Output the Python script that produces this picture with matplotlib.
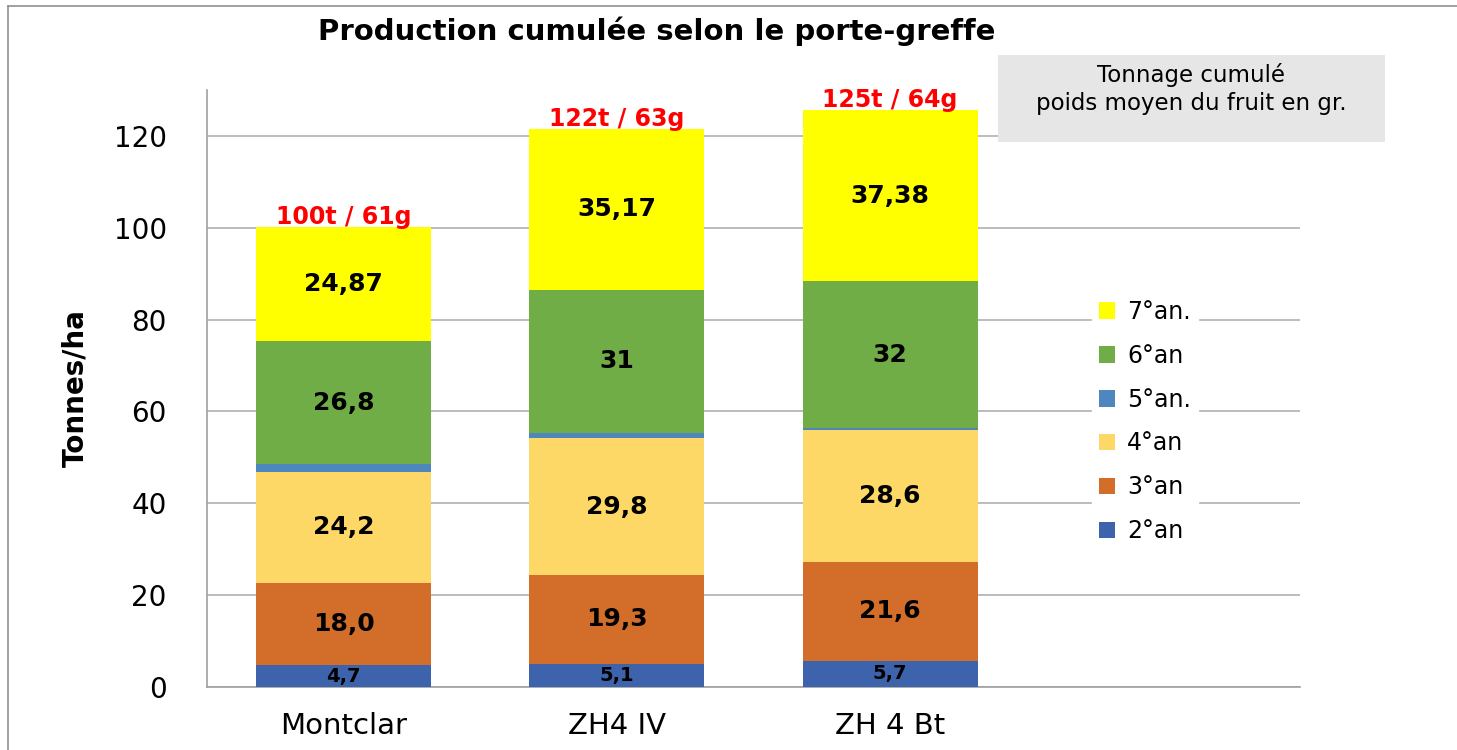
import numpy as np
import matplotlib
matplotlib.use("Agg")
import matplotlib.pyplot as plt
from matplotlib.patches import Rectangle
from matplotlib.lines import Line2D

categories = ["Montclar", "ZH4 IV", "ZH 4 Bt"]

an2 = [4.7, 5.1, 5.7]
an3 = [18.0, 19.3, 21.6]
an4 = [24.2, 29.8, 28.6]
an5 = [1.6, 1.2, 0.4]
an6 = [26.8, 31.0, 32.0]
an7 = [24.87, 35.17, 37.38]

series_names = ["2°an", "3°an", "4°an", "5°an.", "6°an", "7°an."]
series_colors = ["#3C63AC", "#D26E2A", "#FDD866", "#4E87BE", "#70AD47", "#FFFF00"]

an2_lbl = ["4,7", "5,1", "5,7"]
an3_lbl = ["18,0", "19,3", "21,6"]
an4_lbl = ["24,2", "29,8", "28,6"]
an6_lbl = ["26,8", "31", "32"]
an7_lbl = ["24,87", "35,17", "37,38"]

total_lbl = ["100t / 61g", "122t / 63g", "125t / 64g"]

plt.rcParams['font.family'] = ['DejaVu Sans']

fig = plt.figure(figsize=(14.57, 7.5), dpi=100)
ax = fig.add_axes([207 / 1457, 1 - 687 / 750, 1093 / 1457, 597 / 750])

x = np.arange(len(categories))
w = 0.64
series = [an2, an3, an4, an5, an6, an7]
labels = [an2_lbl, an3_lbl, an4_lbl, None, an6_lbl, an7_lbl]

bottom = np.zeros(len(categories))
for vals, name, col, lbl in zip(series, series_names, series_colors, labels):
    vals = np.array(vals)
    ax.bar(x, vals, w, bottom=bottom, color=col, label=name, linewidth=0, zorder=3)
    if lbl is not None:
        fs = 14 if name == "2°an" else 18
        for xi, yb, v, t in zip(x, bottom, vals, lbl):
            ax.text(xi, yb + v / 2, t, ha='center', va='center', fontsize=fs,
                    fontweight='bold', color='black', zorder=4)
    bottom = bottom + vals

for xi, tot, t in zip(x, bottom, total_lbl):
    ax.text(xi, tot + 0.6, t, ha='center', va='baseline', fontsize=17,
            fontweight='bold', color='red', zorder=4)

ax.set_xlim(-0.5, 3.5)
ax.set_ylim(0, 130)
ax.set_yticks(np.arange(0, 121, 20))
ax.set_xticks(x)
ax.set_xticklabels(categories, fontsize=21)
ax.tick_params(axis='y', labelsize=20, length=0, pad=29)
ax.tick_params(axis='x', length=0, pad=18)
ax.yaxis.grid(True, color='#B0B0B0', linewidth=1.2, zorder=0)
ax.set_axisbelow(True)
for s in ['top', 'right']:
    ax.spines[s].set_visible(False)
for s in ['left', 'bottom']:
    ax.spines[s].set_color('#A0A0A0')
    ax.spines[s].set_linewidth(1.2)

ax.set_ylabel("Tonnes/ha", fontsize=20, fontweight='bold')
ax.yaxis.set_label_coords(-0.108, 0.5)

fig.text(657 / 1457, 1 - 31 / 750, "Production cumulée selon le porte-greffe",
         ha='center', va='center', fontsize=21, fontweight='bold')

# legend, 7°an on top
h, l = ax.get_legend_handles_labels()
leg = ax.legend(h[::-1], l[::-1], loc='upper left',
                bbox_to_anchor=(1080 / 1457, 1 - 281 / 750), bbox_transform=fig.transFigure,
                fontsize=17, frameon=True, framealpha=1, edgecolor='white',
                facecolor='white', handlelength=0.7, handleheight=0.7,
                handletextpad=0.5, labelspacing=0.84, borderpad=0.3, fancybox=False)
leg.set_zorder(5)

# annotation box
fig.patches.append(Rectangle((998 / 1457, 1 - 142 / 750), 387 / 1457, 87 / 750,
                             transform=fig.transFigure, facecolor='#E6E6E6',
                             edgecolor='none', zorder=1))
fig.text(1191 / 1457, 1 - 89 / 750, "Tonnage cumulé\npoids moyen du fruit en gr.",
         ha='center', va='center', fontsize=16.5, linespacing=1.25)

# chart area border (left and top)
fig.add_artist(Line2D([8 / 1457, 8 / 1457], [0, 1 - 6 / 750], transform=fig.transFigure,
                      color='#909090', linewidth=1.2))
fig.add_artist(Line2D([8 / 1457, 1], [1 - 6 / 750, 1 - 6 / 750], transform=fig.transFigure,
                      color='#909090', linewidth=1.2))

plt.savefig("out.png", dpi=100)
